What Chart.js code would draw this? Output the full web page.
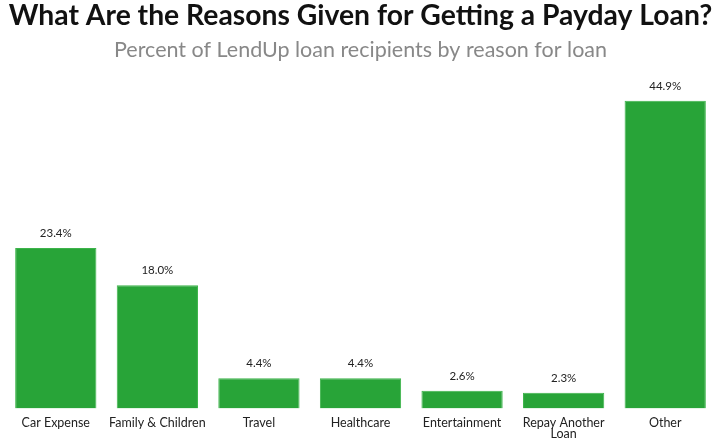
<!DOCTYPE html>
<html>
<head>
<meta charset="utf-8">
<script src="https://cdn.jsdelivr.net/npm/chart.js@4"></script>
<style>
    html, body { margin: 0; padding: 0; background: #ffffff; }
    #wrap { width: 720px; height: 442px; }
</style>
</head>
<body>
<div id="wrap"><canvas id="reasonChart" width="720" height="442"></canvas></div>
<script>
// Chart data
const categories = ['Car Expense', 'Family & Children', 'Travel', 'Healthcare', 'Entertainment', ['Repay Another', 'Loan'], 'Other'];
const percentValues = [23.4, 18.0, 4.4, 4.4, 2.6, 2.3, 44.9];
const valueLabels = ['23.4%', '18.0%', '4.4%', '4.4%', '2.6%', '2.3%', '44.9%'];

// Draw value labels above each bar
const valueLabelPlugin = {
    id: 'valueLabels',
    afterDatasetsDraw(chart) {
        const ctx = chart.ctx;
        const meta = chart.getDatasetMeta(0);
        ctx.save();
        ctx.font = '11.5px Lato';
        ctx.fillStyle = '#222222';
        ctx.textAlign = 'center';
        ctx.textBaseline = 'alphabetic';
        meta.data.forEach((bar, i) => {
            ctx.fillText(valueLabels[i], bar.x, bar.y - 11);
        });
        ctx.restore();
    }
};

const ctx = document.getElementById('reasonChart').getContext('2d');
new Chart(ctx, {
    type: 'bar',
    data: {
        labels: categories,
        datasets: [{
            data: percentValues,
            backgroundColor: '#28a438',
            borderColor: '#3cb44a',
            borderWidth: 1,
            categoryPercentage: 1,
            barPercentage: 0.8
        }]
    },
    options: {
        responsive: false,
        animation: false,
        layout: {
            padding: { left: 5, right: 4, top: 0, bottom: -7 }
        },
        plugins: {
            legend: { display: false },
            tooltip: { enabled: false },
            title: {
                display: true,
                text: 'What Are the Reasons Given for Getting a Payday Loan?',
                color: '#111111',
                font: { family: 'Lato', size: 28.3, weight: 'bold', lineHeight: 1 },
                padding: { top: 2, bottom: 8 }
            },
            subtitle: {
                display: true,
                text: 'Percent of LendUp loan recipients by reason for loan',
                color: '#888888',
                font: { family: 'Lato', size: 21.5, lineHeight: 1 },
                padding: { top: 1, bottom: 29 }
            }
        },
        scales: {
            x: {
                grid: { display: false, drawTicks: false, tickLength: 0 },
                border: { display: false },
                ticks: {
                    color: '#222222',
                    font: { family: 'Lato', size: 12.5, lineHeight: 0.9 },
                    padding: 9,
                    maxRotation: 0,
                    autoSkip: false
                }
            },
            y: {
                display: false,
                min: 0,
                max: 46.5
            }
        }
    },
    plugins: [valueLabelPlugin]
});
</script>
</body>
</html>
